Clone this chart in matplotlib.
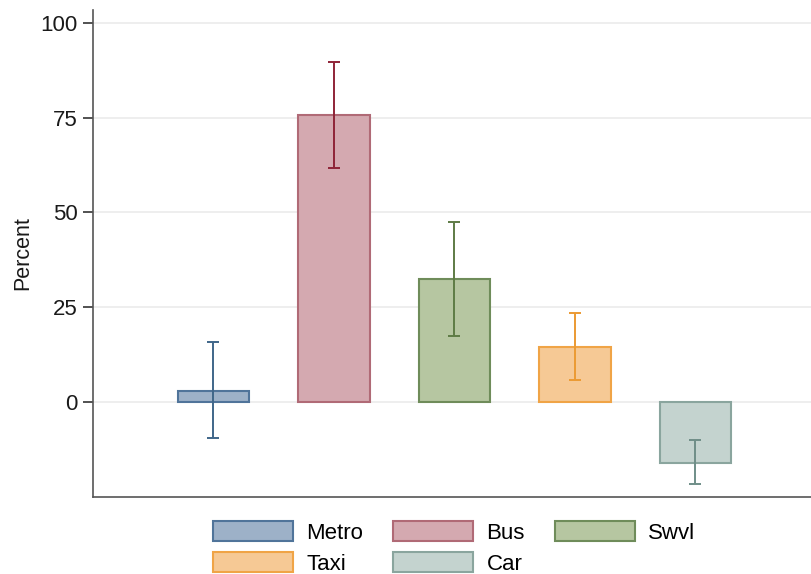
import numpy as np
import matplotlib
matplotlib.use("Agg")
import matplotlib.pyplot as plt
from matplotlib.patches import Patch

plt.rcParams['font.family'] = ['Liberation Sans', 'DejaVu Sans']

modes = ['Metro', 'Bus', 'Swvl', 'Taxi', 'Car']
pct = [3.0, 75.6, 32.5, 14.6, -16.0]
ci_low = [-9.6, 61.7, 17.5, 5.8, -21.8]
ci_high = [15.8, 89.8, 47.5, 23.5, -10.1]
yticks = [0, 25, 50, 75, 100]

fills = ['#9db1c8', '#d4a9b0', '#b6c6a1', '#f6c995', '#c4d3cf']
edges = ['#50749a', '#b06a76', '#6f8c5a', '#f0a446', '#8aa59e']
bar_colors = ['#3f6689', '#8f2437', '#5e7b45', '#eb9a33', '#6f8e88']

fig = plt.figure(figsize=(8.11, 5.74), dpi=100)
W, H = 811, 574
ax = fig.add_axes([93 / W, (H - 497) / H, (816 - 93) / W, (497 - 10) / H])

x = np.arange(1, len(modes) + 1)
ax.bar(x, pct, width=0.59, color=fills, edgecolor=edges, linewidth=1.5, zorder=2)
for xi, p, lo, hi, c in zip(x, pct, ci_low, ci_high, bar_colors):
    ax.errorbar(xi, p, yerr=[[p - lo], [hi - p]], fmt='none', ecolor=c,
                elinewidth=1.4, capsize=4, capthick=1.4, zorder=3)

ax.set_xlim(0, 6)
ax.set_ylim(-25.1, 103.4)
ax.set_yticks(yticks)
ax.set_xticks([])
ax.yaxis.grid(True, color='#ebebeb', linewidth=1.2, zorder=0)
ax.set_axisbelow(True)
for side in ['top', 'right']:
    ax.spines[side].set_visible(False)
for side in ['left', 'bottom']:
    ax.spines[side].set_color('#555555')
    ax.spines[side].set_linewidth(1.2)
ax.tick_params(axis='y', length=7, width=1.2, color='#333333', pad=4,
               labelsize=16, labelcolor='#1a1a1a')
ax.set_ylabel('Percent', fontsize=15.5, color='#1a1a1a', labelpad=5)

# legend fills column by column, so reorder to read Metro Bus Swvl / Taxi Car
order = [0, 3, 1, 4, 2]
handles = [Patch(facecolor=fills[i], edgecolor=edges[i], linewidth=1.5) for i in order]
labels = [modes[i] for i in order]
fig.legend(handles, labels, loc='upper left', ncol=3, frameon=False,
           bbox_to_anchor=(213 / W, 1 - 521 / H), fontsize=16,
           handlelength=3.6, handleheight=1.0, handletextpad=0.6,
           columnspacing=1.35, labelspacing=0.4, borderpad=0,
           borderaxespad=0)

fig.savefig('out.png', dpi=100)
